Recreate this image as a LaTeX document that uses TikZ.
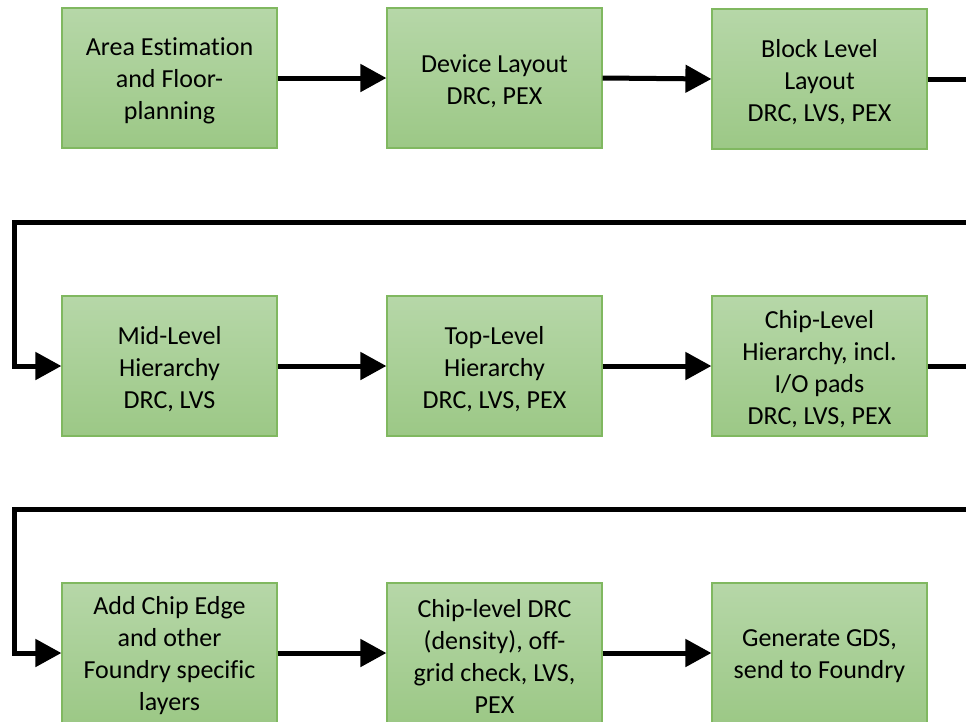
\documentclass[tikz,border=0pt]{standalone}
\usepackage{fontspec}
\setmainfont{Carlito}[Ligatures={NoCommon}]
\usetikzlibrary{arrows.meta}
\definecolor{boxtop}{HTML}{B6D7A8}
\definecolor{boxbot}{HTML}{9CC886}
\definecolor{boxedge}{HTML}{80B860}
\tikzset{
  stepbox/.style={draw=boxedge, line width=1.2pt, top color=boxtop, bottom color=boxbot,
    minimum width=215pt, minimum height=140pt, inner sep=0pt},
  boxtext/.style={align=center, inner sep=0pt, yshift=-3pt,
    font=\fontsize{26}{32}\selectfont, text=black},
  flow/.style={line width=5pt, -{Triangle[length=26pt,width=27pt]}}
}
\begin{document}
\begin{tikzpicture}[x=1pt,y=-1pt]
\path[use as bounding box, clip] (0,0) rectangle (966,721);
% row 1
\node[stepbox, label={[boxtext]center:{Area Estimation\\and Floor-\\planning}}] (b1) at (169.5,78) {};
\node[stepbox, label={[boxtext]center:{Device Layout\\DRC, PEX}}] (b2) at (494.5,78) {};
\node[stepbox, label={[boxtext]center:{Block Level\\Layout\\DRC, LVS, PEX}}] (b3) at (819.5,79) {};
% row 2
\node[stepbox, label={[boxtext]center:{Mid-Level\\Hierarchy\\DRC, LVS}}] (b4) at (169.5,366) {};
\node[stepbox, label={[boxtext]center:{Top-Level\\Hierarchy\\DRC, LVS, PEX}}] (b5) at (494.5,366) {};
\node[stepbox, label={[boxtext]center:{Chip-Level\\Hierarchy, incl.\\I/O pads\\DRC, LVS, PEX}}] (b6) at (819.5,366) {};
% row 3
\node[stepbox, label={[boxtext]center:{Add Chip Edge\\and other\\Foundry specific\\layers}}] (b7) at (169.5,653) {};
\node[stepbox, label={[boxtext]center:{Chip-level DRC\\(density), off-\\grid check, LVS,\\PEX}}] (b8) at (494.5,653) {};
\node[stepbox, label={[boxtext]center:{Generate GDS,\\send to Foundry}}] (b9) at (819.5,653) {};
% turn-around points
\coordinate (r1) at (1000,79);
\coordinate (r1b) at (1000,222.5);
\coordinate (l1) at (14,222.5);
\coordinate (r2) at (1000,366);
\coordinate (r2b) at (1000,509.5);
\coordinate (l2) at (14,509.5);
% connectors
\draw[flow] (b1) -- (b2);
\draw[flow] (b2.east) -- (b3.west);
\draw[flow] (b3.east) -- (r1) -- (r1b) -- (l1) |- (b4.west);
\draw[flow] (b4) -- (b5);
\draw[flow] (b5) -- (b6);
\draw[flow] (b6.east) -- (r2) -- (r2b) -- (l2) |- (b7.west);
\draw[flow] (b7) -- (b8);
\draw[flow] (b8) -- (b9);
\end{tikzpicture}
\end{document}
